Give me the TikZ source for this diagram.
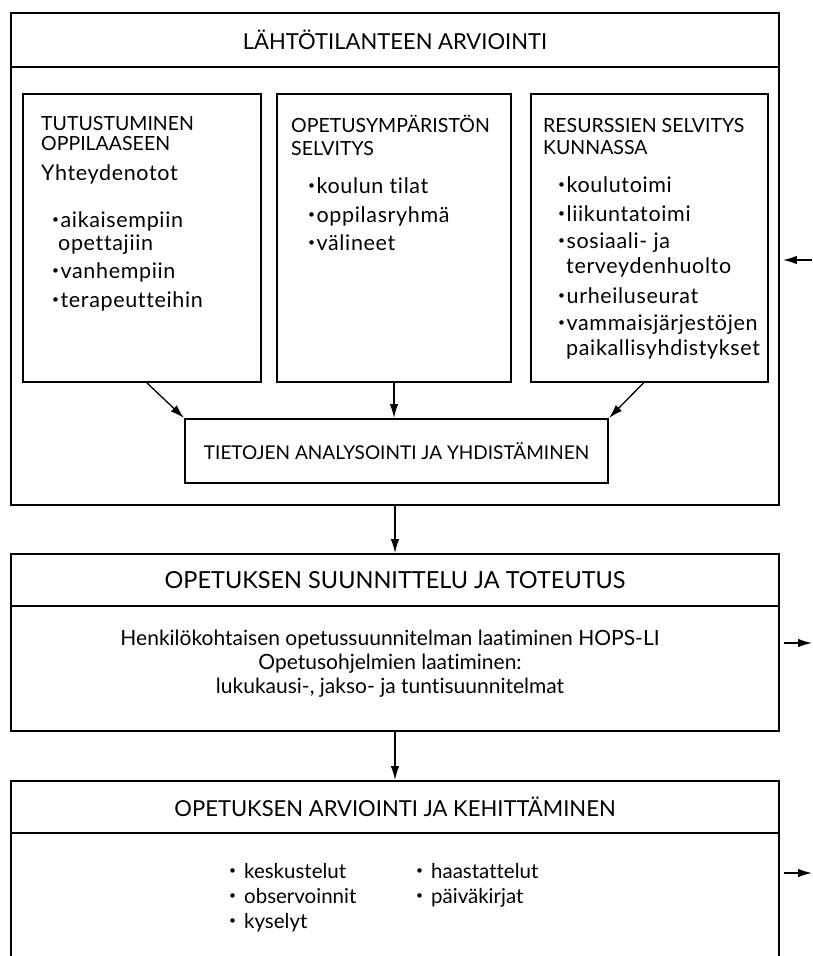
\documentclass[tikz,border=0pt]{standalone}
\usepackage{fontspec}
\setmainfont{Lato}[Ligatures=NoCommon]
\newfontfamily\bodyfont{Lato}[Ligatures=NoCommon,LetterSpace=3]
\usetikzlibrary{arrows.meta,calc}
\newcommand\bul{\raisebox{0.35ex}{\fontsize{12}{12}\selectfont•}\hspace{1.5pt}}
\newcommand\bulw{\raisebox{0.35ex}{\fontsize{12}{12}\selectfont•}\hspace{8pt}}
\tikzset{
 frame/.style={draw, line width=1.9pt, inner sep=0pt},
 sep/.style={line width=1.9pt},
 arr/.style={line width=1.3pt, -{Latex[length=14pt,width=8.5pt]}},
 ttl/.style={inner sep=0pt, font=\fontsize{22}{24}\selectfont},
 hd/.style={anchor=base west, inner sep=0pt, font=\fontsize{19.5}{22}\selectfont},
 tx/.style={anchor=base west, inner sep=0pt, font=\bodyfont\fontsize{21.5}{24}\selectfont},
 btx/.style={anchor=base west, inner sep=0pt, font=\fontsize{20.5}{24}\selectfont},
 ctx/.style={anchor=base, inner sep=0pt, font=\fontsize{21}{24}\selectfont},
}
\begin{document}
\begin{tikzpicture}[x=1pt,y=-1pt]
\useasboundingbox (0,0) rectangle (812,956);
% outer boxes
\node[frame, minimum width=768, minimum height=492] (top) at (395,259) {};
\draw[sep] (top.west |- 0,67) -- (top.east |- 0,67);
\node[ttl] (topT) at (395,40) {LÄHTÖTILANTEEN ARVIOINTI};

\node[frame, minimum width=768, minimum height=177] (mid) at (395,642.5) {};
\draw[sep] (mid.west |- 0,606) -- (mid.east |- 0,606);
\node[ttl, font=\fontsize{23.5}{24}\selectfont] (midT) at (395,580) {OPETUKSEN SUUNNITTELU JA TOTEUTUS};

\node[frame, minimum width=768, minimum height=181] (bot) at (395,871.5) {};
\draw[sep] (bot.west |- 0,833) -- (bot.east |- 0,833);
\node[ttl] (botT) at (395,807) {OPETUKSEN ARVIOINTI JA KEHITTÄMINEN};

% inner boxes
\node[frame, minimum width=238, minimum height=288] (bL) at (142,238) {};
\node[frame, minimum width=234, minimum height=288] (bM) at (394,238) {};
\node[frame, minimum width=237, minimum height=288] (bR) at (649.5,238) {};
\node[frame, minimum width=423, minimum height=64, font=\fontsize{19}{22}\selectfont] (ana) at (396.5,451) {TIETOJEN ANALYSOINTI JA YHDISTÄMINEN};

% left box text
\node[hd] (L1) at (41,130) {TUTUSTUMINEN};
\node[hd] (L2) at (41,150) {OPPILAASEEN};
\node[tx] (L3) at (41,180) {Yhteydenotot};
\node[tx] (L4) at (52,227) {\bul aikaisempiin};
\node[tx] (L5) at (58,250) {opettajiin};
\node[tx] (L6) at (52,278) {\bul vanhempiin};
\node[tx] (L7) at (52,307) {\bul terapeutteihin};

% middle box text
\node[hd] (M1) at (291,132) {OPETUSYMPÄRISTÖN};
\node[hd] (M2) at (291,155) {SELVITYS};
\node[tx] (M3) at (308,193) {\bul koulun tilat};
\node[tx] (M4) at (308,222) {\bul oppilasryhmä};
\node[tx] (M5) at (308,250) {\bul välineet};

% right box text
\node[hd] (R1) at (543,132) {RESURSSIEN SELVITYS};
\node[hd] (R2) at (543,154) {KUNNASSA};
\node[tx] (R3) at (558,192) {\bul koulutoimi};
\node[tx] (R4) at (558,221) {\bul liikuntatoimi};
\node[tx] (R5) at (558,248) {\bul sosiaali- ja};
\node[tx] (R6) at (566,273) {terveydenhuolto};
\node[tx] (R7) at (558,303) {\bul urheiluseurat};
\node[tx] (R8) at (558,330) {\bul vammaisjärjestöjen};
\node[tx] (R9) at (566,355) {paikallisyhdistykset};

% middle body
\node[ctx] (P1) at (390,645) {Henkilökohtaisen opetussuunnitelman laatiminen HOPS-LI};
\node[ctx] (P2) at (390,669) {Opetusohjelmien laatiminen:};
\node[ctx] (P3) at (390,693) {lukukausi-, jakso- ja tuntisuunnitelmat};

% bottom body
\node[btx] (B1) at (229,878) {\bulw keskustelut};
\node[btx] (B2) at (229,903) {\bulw observoinnit};
\node[btx] (B3) at (229,928) {\bulw kyselyt};
\node[btx] (B4) at (416,878) {\bulw haastattelut};
\node[btx] (B5) at (416,903) {\bulw päiväkirjat};

% arrows
\draw[arr] ([xshift=5pt]bL.south) -- (ana.north west);
\draw[arr] (bM.south) -- (bM.south |- ana.north);
\draw[arr] ([xshift=-6pt]bR.south) -- (ana.north east);
\draw[arr] (top.south) -- (mid.north);
\draw[arr] (mid.south) -- (bot.north);

\coordinate (inA) at (812,260);
\draw[arr, shorten >=3pt] (inA) -- (top.east |- inA);
\coordinate (outB) at (812,643);
\draw[arr, shorten <=4pt] (mid.east |- outB) -- (outB);
\coordinate (outC) at (812,873);
\draw[arr, shorten <=4pt] (bot.east |- outC) -- (outC);
\end{tikzpicture}
\end{document}
